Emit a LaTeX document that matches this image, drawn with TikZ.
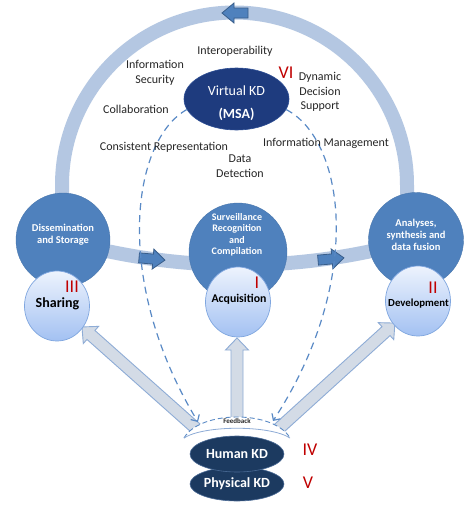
\documentclass[tikz,border=0pt]{standalone}
\usepackage{fontspec}
\setmainfont{Carlito}
\usetikzlibrary{shapes.geometric,arrows.meta}
\definecolor{bandc}{HTML}{B4C7E2}
\definecolor{bluec}{HTML}{4F81BD}
\definecolor{blued}{HTML}{385D8A}
\definecolor{navyv}{HTML}{1E3B7E}
\definecolor{navyvd}{HTML}{2D4E94}
\definecolor{navyh}{HTML}{1C3A60}
\definecolor{navyhd}{HTML}{4A6A95}
\definecolor{redc}{HTML}{C00000}
\definecolor{hfill}{HTML}{D3DBE6}
\definecolor{hdraw}{HTML}{8EACD6}
\definecolor{ltop}{HTML}{EDF3FD}
\definecolor{lbot}{HTML}{A3C1F2}
\definecolor{ldraw}{HTML}{7FA6DF}
\definecolor{txt}{HTML}{262626}
\definecolor{dashc}{HTML}{5A8AC6}
\tikzset{
  band/.style={draw=bandc, line width=14pt},
  bigcirc/.style={circle, fill=bluec, draw=bluec!92!black, line width=0.4pt, inner sep=0pt},
  circtext/.style={text=white, font=\fontsize{10.5}{12}\selectfont\bfseries, align=center, inner sep=0pt},
  lightcirc/.style={ellipse, draw=ldraw, line width=0.7pt, top color=ltop, bottom color=lbot, minimum width=65pt, minimum height=70pt, inner sep=0pt},
  lighttext/.style={text=black, inner sep=0pt},
  lbl/.style={font=\fontsize{12}{14.5}\selectfont, text=txt, align=center, inner sep=0pt},
  roman/.style={font=\fontsize{18}{18}\selectfont, text=redc, inner sep=0pt},
  dashline/.style={draw=dashc, line width=1.2pt, dash pattern=on 7pt off 5pt, -{Straight Barb[length=5pt,width=10pt]}},
  blockarr/.pic={\draw[fill=bluec, draw=blued, line width=0.8pt] (-13,-5) -- (1,-5) -- (1,-10) -- (13,0) -- (1,10) -- (1,5) -- (-13,5) -- cycle;},
  hollowarr/.pic={\draw[fill=hfill, draw=hdraw, line width=0.9pt, line join=miter] (0,-6) -- ({#1-12},-6) -- ({#1-12},-11.5) -- (#1,0) -- ({#1-12},11.5) -- ({#1-12},6) -- (0,6) -- cycle;}
}
\begin{document}
\begin{tikzpicture}[x=1pt,y=-1pt]
\useasboundingbox[fill=white] (0,0) rectangle (472,507);

% cycle bands
\draw[band] (62,200) -- (62,185) arc[start angle=180, end angle=360, radius=172.5] -- (407,200);
\draw[band] (63,240) arc[start angle=106.1, end angle=73.9, radius=635.5];
\pic[rotate=180] at (235,13) {blockarr};
\pic[rotate=-5] at (152,259) {blockarr};
\pic[rotate=5] at (331,259) {blockarr};

% hollow arrows from the human KD
\pic[rotate=138.33] at (200,432) {hollowarr=158};
\pic[rotate=90] at (237,432) {hollowarr=94};
\pic[rotate=42.25] at (275,432) {hollowarr=162};

% process circles
\node[bigcirc, minimum size=94pt] (diss) at (63,240) {};
\node[bigcirc, minimum size=98pt] (surv) at (238,252) {};
\node[bigcirc, minimum size=95pt] (anal) at (416,240) {};
\node[circtext] (disst) at (63,235) {Dissemination\\and Storage};
\node[circtext, font=\fontsize{10}{11.5}\selectfont\bfseries] (survt) at (237,235) {Surveillance\\Recognition\\and\\Compilation};
\node[circtext] (analt) at (416,235) {Analyses,\\synthesis and\\data fusion};

\node[lightcirc] (shar) at (57,306) {};
\node[lightcirc] (acq) at (238,302) {};
\node[lightcirc] (dev) at (418,301) {};
\node[lighttext, font=\fontsize{14}{14}\selectfont\bfseries] (shart) at (57.5,304) {Sharing};
\node[lighttext, font=\fontsize{11.8}{12}\selectfont\bfseries] (acqt) at (239,299) {Acquisition};
\node[lighttext, font=\fontsize{10.8}{11}\selectfont\bfseries] (devt) at (418.5,304) {Development};
\node[roman] (r3) at (72,287) {III};
\node[roman] (r1) at (257,283) {I};
\node[roman] (r2) at (433,288) {II};

% virtual KD
\node[ellipse, fill=navyv, draw=navyvd, line width=0.6pt, minimum width=105pt, minimum height=62pt, inner sep=0pt] (vkd) at (236.5,99) {};
\node[text=white, font=\fontsize{14}{23}\selectfont, align=center, inner sep=0pt] (vkdt) at (236.5,103.5) {Virtual KD\\\textbf{(MSA)}};
\node[roman] (r6) at (286,73) {VI};

% feedback band
\coordinate (fbL) at (198,422);
\coordinate (fbR) at (273,421);
\fill[white] (184,438) .. controls (200,410) and (274,410) .. (290,438) -- (286,446) -- (188,446) -- cycle;
\draw[dashc, line width=0.9pt, dash pattern=on 5pt off 3pt] (184,438) .. controls (200,410) and (274,410) .. (290,438);
\draw[hdraw, line width=0.8pt] (184,438) .. controls (204,425) and (270,425) .. (290,438);
\draw[dashline] (vkd.192) .. controls (132,140) and (112,280) .. (fbL);
\draw[dashline] (vkd.348) .. controls (345,140) and (365,280) .. (fbR);
\node[font=\fontsize{7}{7}\selectfont\bfseries, text=txt, inner sep=0pt] (fbt) at (237,421) {Feedback};

% physical / human KD
\node[ellipse, fill=navyh, draw=navyhd, line width=0.6pt, minimum width=94pt, minimum height=34pt, inner sep=0pt, text=white, font=\fontsize{14}{14}\selectfont\bfseries] (phys) at (237,484) {Physical KD};
\node[ellipse, fill=navyh, draw=navyhd, line width=0.6pt, minimum width=94pt, minimum height=36pt, inner sep=0pt, text=white, font=\fontsize{14}{14}\selectfont\bfseries] (hum) at (237,454) {Human KD};
\node[roman] (r4) at (310,450) {IV};
\node[roman] (r5) at (308,483) {V};

% labels
\node[lbl] (interop) at (235,51) {Interoperability};
\node[lbl] (infosec) at (155,73) {Information\\Security};
\node[lbl] (collab) at (136,109) {Collaboration};
\node[lbl] (dds) at (320,92) {Dynamic\\Decision\\Support};
\node[lbl] (consrep) at (164,147) {Consistent Representation};
\node[lbl] (infoman) at (326,143) {Information Management};
\node[lbl] (datadet) at (240,166) {Data\\Detection};
\end{tikzpicture}
\end{document}
